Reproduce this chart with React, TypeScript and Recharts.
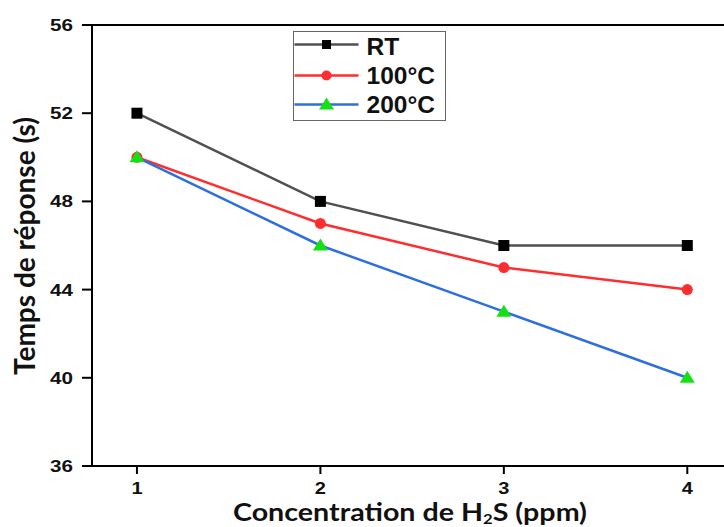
import React from 'react';
import { LineChart, Line, XAxis, YAxis, Legend } from 'recharts';

const concentrations = [1, 2, 3, 4];
const rtValues = [52, 48, 46, 46];
const c100Values = [50, 47, 45, 44];
const c200Values = [50, 46, 43, 40];
const seriesNames = ['RT', '100°C', '200°C'];

const xTicks = [1, 2, 3, 4];
const xMinorTicks = [1.5, 2.5, 3.5];
const yTicks = [36, 40, 44, 48, 52, 56];
const yMinorTicks = [38, 42, 46, 50, 54];
const topTicks = [0, 1, 2, 3, 4];
const topMinorTicks = [0.5, 1.5, 2.5, 3.5, 4.5];

const data = concentrations.map((c, i) => ({
  x: c,
  rt: rtValues[i],
  c100: c100Values[i],
  c200: c200Values[i],
}));

const GRAY_LINE = '#505050';
const RED = '#ff2d2d';
const BLUE = '#2e6fe0';
const GREEN = '#14e014';

const X_DOMAIN: [number, number] = [0.755, 4.211];
const Y_DOMAIN: [number, number] = [36, 56];
const TOP_DOMAIN: [number, number] = [0, 634 / 128];

const axisStyle = { stroke: '#000', strokeWidth: 2 };
const STRETCH = 1.25;

const SquareDot = (p: any) => (
  <rect key={`s${p.index}`} x={p.cx - 5.5} y={p.cy - 5.5} width={11} height={11} fill="#000" />
);
const CircleDot = (p: any) => (
  <circle key={`c${p.index}`} cx={p.cx} cy={p.cy} r={5.5} fill={RED} />
);
const TriangleDot = (p: any) => (
  <polygon
    key={`t${p.index}`}
    points={`${p.cx},${p.cy - 7} ${p.cx + 7.5},${p.cy + 5} ${p.cx - 7.5},${p.cy + 5}`}
    fill={GREEN}
  />
);

const YTick = (p: any) => (
  <text
    x={p.x}
    y={p.y}
    dy="0.36em"
    textAnchor="end"
    fontFamily="'Liberation Sans', Arial, sans-serif"
    fontWeight="bold"
    fontSize={16.5}
    fill="#111"
    transform={`translate(${p.x} 0) scale(${STRETCH} 1) translate(${-p.x} 0)`}
  >
    {p.payload.value}
  </text>
);

const XTick = (p: any) => (
  <text
    x={p.x}
    y={p.y + 11}
    textAnchor="middle"
    fontFamily="'Liberation Sans', Arial, sans-serif"
    fontWeight="bold"
    fontSize={16}
    fill="#111"
    transform={`translate(${p.x} 0) scale(${STRETCH} 1) translate(${-p.x} 0)`}
  >
    {p.payload.value}
  </text>
);

const YTitle = () => (
  <text
    transform={`translate(35 246) rotate(-90) scale(1 1.28)`}
    x={0}
    y={0}
    textAnchor="middle"
    fontFamily="Lato, 'Open Sans', sans-serif"
    fontWeight="bold"
    fontSize={23}
    fill="#111"
    textLength={258}
    lengthAdjust="spacingAndGlyphs"
  >
    Temps de réponse (s)
  </text>
);

const XTitle = () => (
  <text
    x={410}
    y={520.5}
    textAnchor="middle"
    fontFamily="Lato, 'Open Sans', sans-serif"
    fontWeight="bold"
    fontSize={24}
    fill="#111"
    textLength={354}
    lengthAdjust="spacingAndGlyphs"
  >
    Concentration de H
    <tspan fontSize={14} dy={3}>2</tspan>
    <tspan dy={-3}>S (ppm)</tspan>
  </text>
);

const legendRows = [
  { name: seriesNames[0], line: GRAY_LINE, marker: 'square' },
  { name: seriesNames[1], line: RED, marker: 'circle' },
  { name: seriesNames[2], line: BLUE, marker: 'triangle' },
];
const rowCenters = [12.5, 43.5, 72.5];
const rowBaselines = [22.5, 51.8, 80.5];

const LegendBox = () => (
  <div
    style={{
      width: 153,
      height: 90,
      boxSizing: 'border-box',
      border: '1.5px solid #666',
      background: '#fff',
      position: 'relative',
    }}
  >
    <svg width={150} height={87} style={{ position: 'absolute', left: 0, top: 0, overflow: 'visible' }}>
      {legendRows.map((r, i) => {
        const cy = rowCenters[i];
        const cx = 32.5;
        return (
          <g key={r.name}>
            <line x1={0.5} x2={64.5} y1={cy} y2={cy} stroke={r.line} strokeWidth={2.5} />
            {r.marker === 'square' && <rect x={cx - 4.5} y={cy - 4.5} width={9} height={9} fill="#000" />}
            {r.marker === 'circle' && <circle cx={cx} cy={cy} r={5} fill={RED} />}
            {r.marker === 'triangle' && (
              <polygon points={`${cx},${cy - 7} ${cx + 7.5},${cy + 5} ${cx - 7.5},${cy + 5}`} fill={GREEN} />
            )}
            <text
              x={72.5}
              y={rowBaselines[i]}
              fontFamily="'Liberation Sans', Arial, sans-serif"
              fontWeight="bold"
              fontSize={24.5}
              fill="#111"
            >
              {r.name}
            </text>
          </g>
        );
      })}
    </svg>
  </div>
);

export default function App() {
  return (
    <div style={{ position: 'absolute', left: 0, top: 0, width: 724, height: 527, overflow: 'hidden', background: '#fff' }}>
      <LineChart
        width={740}
        height={527}
        data={data}
        margin={{ top: 25, right: 14, bottom: 59, left: 90 }}
      >
        <XAxis
          xAxisId="b"
          dataKey="x"
          type="number"
          domain={X_DOMAIN}
          ticks={xTicks}
          height={1}
          tickSize={8}
          tickMargin={9}
          axisLine={axisStyle}
          tickLine={axisStyle}
          tick={<XTick />}
          label={() => <XTitle />}
          allowDataOverflow
        />
        <XAxis
          xAxisId="bm"
          type="number"
          domain={X_DOMAIN}
          ticks={xMinorTicks}
          height={1}
          tickSize={3}
          axisLine={false}
          tickLine={axisStyle}
          tick={false}
          allowDataOverflow
        />
        <XAxis
          xAxisId="t"
          orientation="top"
          mirror
          type="number"
          domain={TOP_DOMAIN}
          ticks={topTicks}
          height={1}
          tickSize={7}
          axisLine={axisStyle}
          tickLine={axisStyle}
          tick={false}
          allowDataOverflow
        />
        <XAxis
          xAxisId="tm"
          orientation="top"
          mirror
          type="number"
          domain={TOP_DOMAIN}
          ticks={topMinorTicks}
          height={1}
          tickSize={3}
          axisLine={false}
          tickLine={axisStyle}
          tick={false}
          allowDataOverflow
        />
        <YAxis
          yAxisId="l"
          type="number"
          domain={Y_DOMAIN}
          ticks={yTicks}
          width={1}
          tickSize={10}
          tickMargin={9}
          axisLine={axisStyle}
          tickLine={axisStyle}
          tick={<YTick />}
          label={() => <YTitle />}
          allowDataOverflow
        />
        <YAxis
          yAxisId="lm"
          type="number"
          domain={Y_DOMAIN}
          ticks={yMinorTicks}
          width={1}
          tickSize={4}
          axisLine={false}
          tickLine={axisStyle}
          tick={false}
          allowDataOverflow
        />
        <YAxis
          yAxisId="r"
          orientation="right"
          mirror
          type="number"
          domain={Y_DOMAIN}
          ticks={yTicks}
          width={1}
          tickSize={7}
          axisLine={axisStyle}
          tickLine={axisStyle}
          tick={false}
          allowDataOverflow
        />
        <Legend
          layout="vertical"
          align="center"
          verticalAlign="middle"
          wrapperStyle={{ left: 293, top: 31, width: 153, height: 90 }}
          content={() => <LegendBox />}
        />
        <Line
          xAxisId="b"
          yAxisId="l"
          dataKey="rt"
          name={seriesNames[0]}
          stroke={GRAY_LINE}
          strokeWidth={2.5}
          dot={SquareDot}
          activeDot={false}
          isAnimationActive={false}
        />
        <Line
          xAxisId="b"
          yAxisId="l"
          dataKey="c100"
          name={seriesNames[1]}
          stroke={RED}
          strokeWidth={2.5}
          dot={CircleDot}
          activeDot={false}
          isAnimationActive={false}
        />
        <Line
          xAxisId="b"
          yAxisId="l"
          dataKey="c200"
          name={seriesNames[2]}
          stroke={BLUE}
          strokeWidth={2.5}
          dot={TriangleDot}
          activeDot={false}
          isAnimationActive={false}
        />
      </LineChart>
    </div>
  );
}
